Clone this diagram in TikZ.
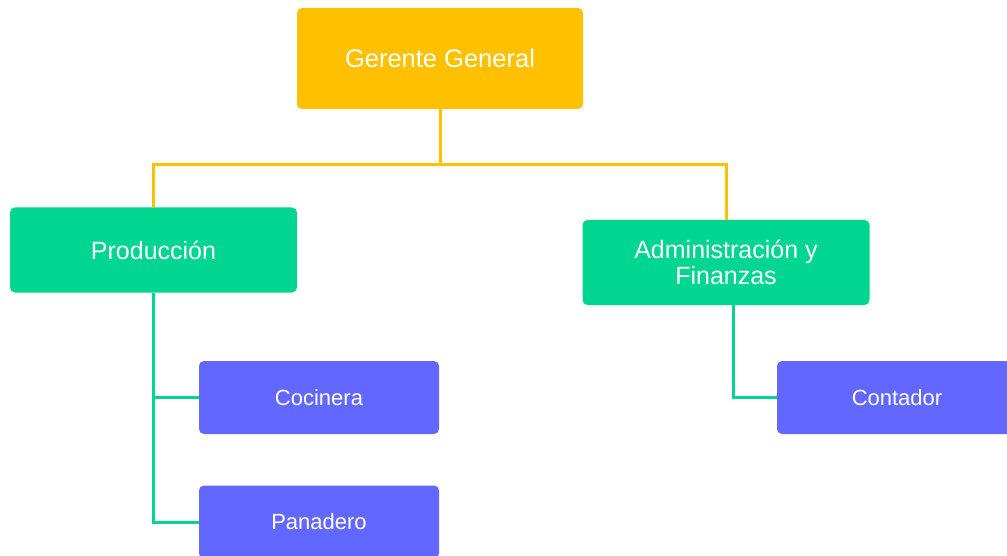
\documentclass[tikz,border=0pt]{standalone}
\usepackage{fontspec}
\setmainfont{Liberation Sans}
\usepackage{xcolor}
\usetikzlibrary{positioning,calc}
\definecolor{jefe}{HTML}{FFC000}
\definecolor{area}{HTML}{00D68F}
\definecolor{puesto}{HTML}{6268FF}

\begin{document}
\begin{tikzpicture}[x=1pt,y=-1pt,
  caja/.style={rectangle,rounded corners=5pt,text=white,align=center,inner sep=0pt},
  gj/.style={caja,fill=jefe,minimum width=286pt,minimum height=101pt,font=\fontsize{25.5}{27}\selectfont},
  ga/.style={caja,fill=area,minimum width=287pt,minimum height=85pt,font=\fontsize{25}{25.5}\selectfont},
  gp/.style={caja,fill=puesto,minimum width=240pt,minimum height=73pt,font=\fontsize{22}{24}\selectfont},
  lj/.style={draw=jefe,line width=3pt},
  la/.style={draw=area,line width=3pt}]
  \useasboundingbox (0,0) rectangle (1007,556);
  % niveles
  \node[gj](ger) at (440,58.5){Gerente General};
  \node[ga](prod) at (153.5,250){Producción};
  \node[ga](adm) at (726,262.5){Administración y\\Finanzas};
  \node[gp](coc) at (319,397.5){Cocinera};
  \node[gp](pan) at (319,522){Panadero};
  \node[gp](cont) at (897,397.5){Contador};
  % conectores
  \coordinate (bus) at (440,165);
  \draw[lj](ger.south)--(bus);
  \draw[lj](bus)-|(prod.north);\draw[lj](bus)-|(adm.north);
  \draw[la](prod.south)|-(coc.west);\draw[la](prod.south)|-(pan.west);
  \draw[la]([xshift=7pt]adm.south)|-(cont.west);
\end{tikzpicture}
\end{document}
